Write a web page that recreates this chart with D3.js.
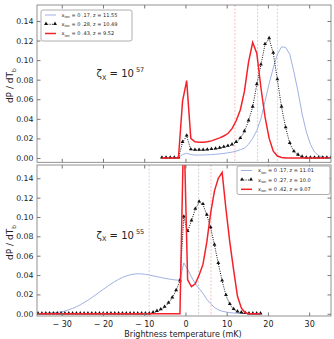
<!DOCTYPE html>
<html>
<head>
<meta charset="utf-8">
<script src="https://cdn.jsdelivr.net/npm/d3@7"></script>
<style>
    body { margin: 0; background: #fff; }
    text { font-family: "DejaVu Sans", sans-serif; fill: #222; }
</style>
</head>
<body>
<div class="canvas"></div>
<script>
// brightness temperature samples (mK)
const tempsTop = [-5.7, -4.7, -3.7, -2.7, -1.7, -0.7, 0.3, 1.3, 2.3, 3.3, 4.3, 5.3, 6.3, 7.3, 8.3, 9.3, 10.3, 11.3, 12.3, 13.3,
    14.3, 15.3, 16.3, 17.3, 18.3, 19.3, 20.3, 21.3, 22.3, 23.3, 24.3, 25.3, 26.3, 27.3, 28.3, 29.3, 30.3, 31.3, 32.3, 33.3, 34.3, 35.3];
const tempsBottom = [-35.74, -34.81, -33.88, -32.95, -32.02, -31.09, -30.16, -29.23, -28.3, -27.37, -26.44, -25.51, -24.58, -23.65,
    -22.72, -21.79, -20.86, -19.93, -19.0, -18.07, -17.14, -16.21, -15.28, -14.35, -13.42, -12.49, -11.56, -10.63, -9.7, -8.77,
    -7.84, -6.91, -5.98, -5.05, -4.12, -3.19, -2.26, -1.33, -0.4, 0.53, 1.46, 2.39, 3.32, 4.25, 5.18, 6.11, 7.04, 7.97, 8.9,
    9.83, 10.76, 11.69, 12.62, 13.55, 14.48, 15.41, 16.34, 17.27, 18.2];

// zeta_X = 10^57
const blueTop = [0, 0, 0, 0, 0.0005, 0.0035, 0.0048, 0.0035, 0.003, 0.003, 0.0031, 0.0033, 0.0035, 0.0038, 0.0042, 0.0047,
    0.0053, 0.006, 0.007, 0.0085, 0.010, 0.014, 0.020, 0.028, 0.040, 0.058, 0.076, 0.092, 0.106, 0.1135, 0.113, 0.106, 0.088,
    0.068, 0.045, 0.027, 0.014, 0.006, 0.0025, 0.001, 0.0004, 0.0001];
const blackTop = [0, 0, 0, 0, 0, 0.016, 0.0225, 0.0085, 0.008, 0.008, 0.008, 0.0083, 0.0087, 0.0092, 0.010, 0.011, 0.012,
    0.0135, 0.016, 0.020, 0.027, 0.038, 0.052, 0.075, 0.095, 0.116, 0.122, 0.107, 0.080, 0.052, 0.031, 0.015, 0.0065, 0.003,
    0.001, 0, 0, 0, 0, 0, 0, 0];
const redTop = [0, 0, 0, 0, 0, 0.058, 0.079, 0.020, 0.0165, 0.016, 0.016, 0.0165, 0.0175, 0.019, 0.0205, 0.0225, 0.025,
    0.030, 0.038, 0.049, 0.068, 0.098, 0.118, 0.107, 0.072, 0.042, 0.020, 0.007, 0.002, 0.0005, 0, 0, 0, 0, 0, 0, 0, 0, 0,
    0, 0, 0];

// zeta_X = 10^55
const blueBottom = [0.0002, 0.0003, 0.0005, 0.0007, 0.001, 0.0014, 0.002, 0.0028, 0.0042, 0.0055, 0.0072, 0.0092, 0.0115,
    0.014, 0.0167, 0.0195, 0.0225, 0.0253, 0.028, 0.0308, 0.0333, 0.0355, 0.0375, 0.039, 0.0402, 0.041, 0.0413, 0.0412,
    0.0407, 0.040, 0.0392, 0.0383, 0.0375, 0.0367, 0.036, 0.0354, 0.0348, 0.035, 0.0525, 0.046, 0.038, 0.031, 0.026, 0.021,
    0.015, 0.0105, 0.0065, 0.004, 0.0027, 0.0018, 0.0012, 0.0008, 0.0005, 0.0003, 0.0002, 0.0001, 0.0001, 0, 0];
const blackBottom = [0, 0, 0, 0, 0, 0, 0, 0, 0, 0, 0, 0, 0, 0, 0, 0, 0, 0, 0, 0, 0, 0, 0, 0, 0, 0, 0, 0, 0, 0,
    0.001, 0.0025, 0.0042, 0.0068, 0.011, 0.0165, 0.024, 0.034, 0.100, 0.085, 0.096, 0.108, 0.1155, 0.113, 0.102, 0.089,
    0.071, 0.052, 0.034, 0.019, 0.0098, 0.0045, 0.002, 0.001, 0.0005, 0, 0, 0, 0];
const redBottom = [0, 0, 0, 0, 0, 0, 0, 0, 0, 0, 0, 0, 0, 0, 0, 0, 0, 0, 0, 0, 0, 0, 0, 0, 0, 0, 0, 0, 0, 0, 0, 0, 0, 0,
    0, 0, 0, 0, 0.20, 0.035, 0.028, 0.031, 0.040, 0.051, 0.074, 0.104, 0.127, 0.140, 0.146, 0.108, 0.074, 0.045, 0.018,
    0.006, 0.001, 0, 0, 0, 0];

// mean temperatures (dashed lines): blue, black, red
const meansTop = [22.3, 17.5, 12.0];
const meansBottom = [-8.8, 3.2, 6.2];

const legendTop = ['0 .17, z = 11.55', '0 .28, z = 10.49', '0 .43, z = 9.52'];
const legendBottom = ['0 .17, z = 11.01', '0 .27, z = 10.0', '0 .42, z = 9.07'];
const zetaExp = ['57', '55'];

const xTicks = [-30, -20, -10, 0, 10, 20, 30];
const yTicks = [0, 0.02, 0.04, 0.06, 0.08, 0.10, 0.12, 0.14];

const width = 334, height = 339, left = 37, right = 331;
const colors = ['#9fb1e2', '#111', '#f5222a'];
const meanColors = ['#c3cdee', '#c4c4c4', '#f6b0b0'];

const svg = d3.select('.canvas')
    .append('svg')
    .attr('width', width)
    .attr('height', height)
    ;

const xScale = d3.scaleLinear().domain([-36, 35.3]).range([left, right]);

const panels = [
    { temps: tempsTop, series: [blueTop, blackTop, redTop], means: meansTop, legend: legendTop,
      top: 5, bottom: 162.3, domain: [-0.0044, 0.1563], legendBox: [41, 10, 91, 31], rows: [15, 24.3, 33.5], textX: 61.5 },
    { temps: tempsBottom, series: [blueBottom, blackBottom, redBottom], means: meansBottom, legend: legendBottom,
      top: 165, bottom: 316, domain: [-0.0023, 0.1537], legendBox: [237, 166, 93, 28.5], rows: [170.5, 180, 189.3], textX: 258 }
];

panels.forEach((p, i) => {
    const yScale = d3.scaleLinear().domain(p.domain).range([p.bottom, p.top]);
    const g = svg.append('g').attr('class', 'panel');

    g.append('clipPath').attr('id', 'clip' + i)
        .append('rect')
        .attr('x', left).attr('y', p.top)
        .attr('width', right - left).attr('height', p.bottom - p.top);

    const plot = g.append('g').attr('clip-path', `url(#clip${i})`);

    // mean lines
    plot.selectAll('line.mean')
        .data(p.means)
        .enter()
        .append('line')
        .attr('class', 'mean')
        .attr('x1', d => xScale(d)).attr('x2', d => xScale(d))
        .attr('y1', p.top).attr('y2', p.bottom)
        .attr('stroke', (d, j) => meanColors[j])
        .attr('stroke-width', 0.8)
        .attr('stroke-dasharray', '2,1.5');

    const line = d3.line()
        .x(d => xScale(d[0]))
        .y(d => yScale(d[1]));

    p.series.forEach((vals, j) => {
        const pts = p.temps.map((t, k) => [t, vals[k]]);
        plot.append('path')
            .datum(pts)
            .attr('fill', 'none')
            .attr('stroke', colors[j])
            .attr('stroke-width', j === 2 ? 1.5 : 1)
            .attr('stroke-dasharray', j === 1 ? '1,1.3' : null)
            .attr('d', line);
        if (j === 1) {
            plot.selectAll('path.tri')
                .data(pts)
                .enter()
                .append('path')
                .attr('class', 'tri')
                .attr('d', d3.symbol(d3.symbolTriangle, 6.5))
                .attr('transform', d => `translate(${xScale(d[0])},${yScale(d[1]) - 0.5})`)
                .attr('fill', '#111');
        }
    });

    // frame
    g.append('rect')
        .attr('x', left).attr('y', p.top)
        .attr('width', right - left).attr('height', p.bottom - p.top)
        .attr('fill', 'none')
        .attr('stroke', '#777')
        .attr('stroke-width', 0.8);

    // axes (ticks pointing inward)
    const yAxis = d3.axisLeft(yScale).tickValues(yTicks).tickSize(-3.5).tickPadding(3.5)
        .tickFormat(d3.format('.2f'));
    g.append('g').attr('transform', `translate(${left},0)`).call(yAxis)
        .call(a => a.select('.domain').remove())
        .call(a => a.selectAll('line').attr('stroke', '#777'))
        .call(a => a.selectAll('text').style('font-size', '7.8px').attr('fill', '#222'));
    g.append('g').attr('transform', `translate(${right},0)`)
        .call(d3.axisRight(yScale).tickValues(yTicks).tickSize(-3.5).tickFormat(''))
        .call(a => a.select('.domain').remove())
        .call(a => a.selectAll('line').attr('stroke', '#777'));
    g.append('g').attr('transform', `translate(0,${p.top})`)
        .call(d3.axisTop(xScale).tickValues(xTicks).tickSize(-3.5).tickFormat(''))
        .call(a => a.select('.domain').remove())
        .call(a => a.selectAll('line').attr('stroke', '#777'));
    const xAxis = d3.axisBottom(xScale).tickValues(xTicks).tickSize(-3.5).tickPadding(5.5)
        .tickFormat(d => i === 1 ? (d < 0 ? '\u2212 ' + Math.abs(d) : d) : '');
    g.append('g').attr('transform', `translate(0,${p.bottom})`).call(xAxis)
        .call(a => a.select('.domain').remove())
        .call(a => a.selectAll('line').attr('stroke', '#777'))
        .call(a => a.selectAll('text').style('font-size', '8px').attr('fill', '#222'));

    // y label
    const yl = g.append('text')
        .attr('transform', `translate(13,${(p.top + p.bottom) / 2 + 2}) rotate(-90)`)
        .attr('text-anchor', 'middle')
        .style('font-size', '9px');
    yl.append('tspan').text('dP / dT');
    yl.append('tspan').attr('dy', 2.5).style('font-size', '6px').text('b');

    // zeta annotation
    const zt = g.append('text')
        .attr('x', 96.5)
        .attr('y', i === 0 ? 77 : 238.5)
        .style('font-size', '10px')
        .attr('fill', '#333');
    zt.append('tspan').text('\u03b6');
    zt.append('tspan').attr('dy', 2.5).style('font-size', '6.5px').text('X');
    zt.append('tspan').attr('dy', -2.5).text(' = 10');
    zt.append('tspan').attr('dx', 2).attr('dy', -5).style('font-size', '6.5px').text(zetaExp[i]);

    // legend
    const lb = p.legendBox;
    const lg = g.append('g').attr('class', 'legend');
    lg.append('rect')
        .attr('x', lb[0]).attr('y', lb[1]).attr('width', lb[2]).attr('height', lb[3])
        .attr('rx', 2)
        .attr('fill', '#fff').attr('fill-opacity', 0.9)
        .attr('stroke', '#999').attr('stroke-width', 0.8);
    p.legend.forEach((lab, j) => {
        const ry = p.rows[j];
        const x0 = lb[0] + 4, x1 = lb[0] + 15;
        lg.append('line')
            .attr('x1', x0).attr('x2', x1).attr('y1', ry).attr('y2', ry)
            .attr('stroke', colors[j])
            .attr('stroke-width', j === 2 ? 1.5 : 1)
            .attr('stroke-dasharray', j === 1 ? '1,1.3' : null);
        if (j === 1) {
            [x0 + 1, x1 - 1].forEach(tx => lg.append('path')
                .attr('d', d3.symbol(d3.symbolTriangle, 6.5))
                .attr('transform', `translate(${tx},${ry - 0.5})`)
                .attr('fill', '#111'));
        }
        const t = lg.append('text')
            .attr('x', p.textX)
            .attr('y', ry + 1.8)
            .style('font-size', '5px')
            .attr('fill', '#333');
        t.append('tspan').text('x');
        t.append('tspan').attr('dy', 1.2).style('font-size', '3.5px').text('ion');
        t.append('tspan').attr('dy', -1.2).text(' = ' + lab);
    });
});

// x label
svg.append('text')
    .attr('x', 183)
    .attr('y', 336.5)
    .attr('text-anchor', 'middle')
    .style('font-size', '8px')
    .text('Brightness temperature (mK)');
</script>
</body>
</html>
